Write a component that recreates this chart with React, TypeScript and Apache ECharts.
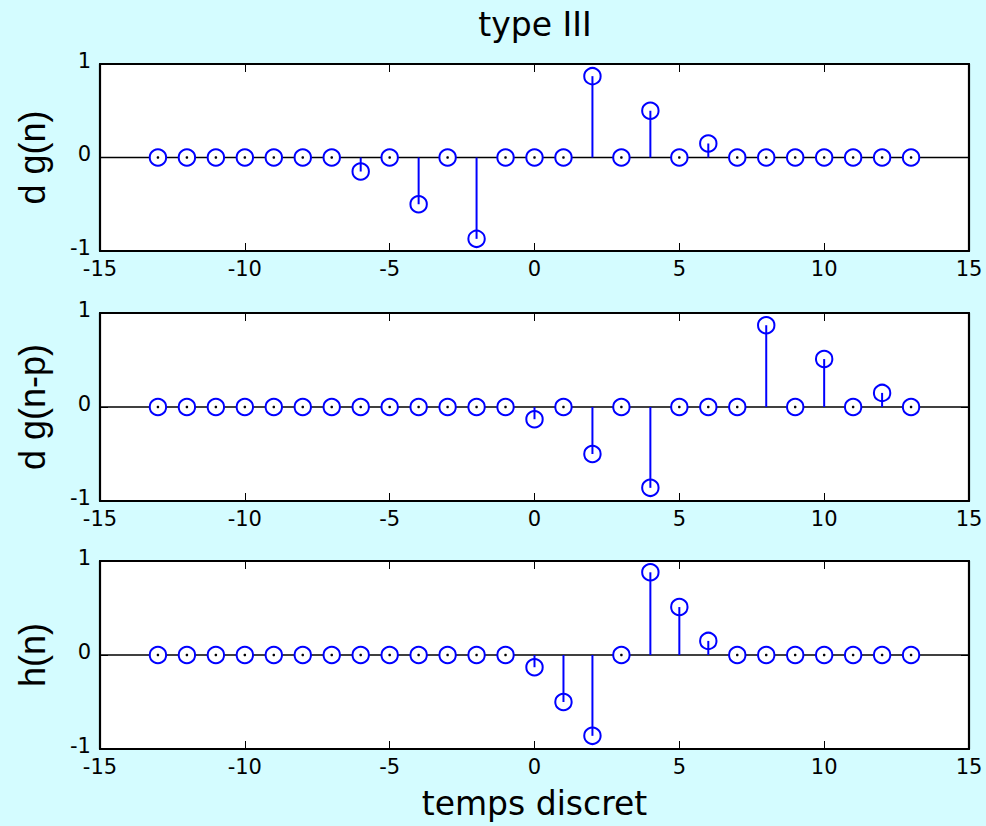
import React, { useEffect, useRef } from "react";
import * as echarts from "echarts";

const N = [-13, -12, -11, -10, -9, -8, -7, -6, -5, -4, -3, -2, -1, 0, 1, 2, 3, 4, 5, 6, 7, 8, 9, 10, 11, 12, 13];
const DG = [0, 0, 0, 0, 0, 0, 0, -0.15, 0, -0.5, 0, -0.87, 0, 0, 0, 0.87, 0, 0.5, 0, 0.15, 0, 0, 0, 0, 0, 0, 0];
const DGP = [0, 0, 0, 0, 0, 0, 0, 0, 0, 0, 0, 0, 0, -0.13, 0, -0.5, 0, -0.86, 0, 0, 0, 0.87, 0, 0.51, 0, 0.15, 0];
const H = [0, 0, 0, 0, 0, 0, 0, 0, 0, 0, 0, 0, 0, -0.13, -0.5, -0.86, 0, 0.88, 0.51, 0.15, 0, 0, 0, 0, 0, 0, 0];
const X_RANGE = [-15, 15];
const Y_RANGE = [-1, 1];
const Y_LABELS = ["d g(n)", "d g(n-p)", "h(n)"];
const TITLE = "type III";
const X_NAME = "temps discret";

const BG = "rgb(212,252,255)";
const BLUE = "#0000ff";

export default function App() {
  const ref = useRef<HTMLDivElement>(null);
  useEffect(() => {
    document.body.style.margin = "0";
    const chart = echarts.init(ref.current!, null, { renderer: "svg" });
    const series = [DG, DGP, H];
    const tops = [64, 313, 561];
    const heights = [187, 188, 188];
    const grid = tops.map((t, i) => ({ left: 100, width: 869, top: t, height: heights[i], backgroundColor: "#fff", show: true, borderWidth: 0 }));
    const axisLine = { onZero: false, lineStyle: { color: "#000", width: 2.2 } };
    const axisTick = { inside: true, length: 8, lineStyle: { color: "#000", width: 1 } };
    const xAxis: any[] = [];
    const yAxis: any[] = [];
    const ser: any[] = [];
    series.forEach((vals, i) => {
      xAxis.push({
        type: "value", gridIndex: i, min: X_RANGE[0], max: X_RANGE[1], interval: 5, position: "bottom",
        axisLine, axisTick, splitLine: { show: false },
        axisLabel: { color: "#000", fontFamily: "DejaVu Sans", fontSize: 21, margin: 7 },
        ...(i === 2 ? { name: X_NAME, nameLocation: "middle", nameGap: 38, nameTextStyle: { color: "#000", fontFamily: "DejaVu Sans", fontSize: 33 } } : {}),
      });
      xAxis.push({
        type: "value", gridIndex: i, min: X_RANGE[0], max: X_RANGE[1], interval: 5, position: "top",
        axisLine, axisTick, splitLine: { show: false }, axisLabel: { show: false },
      });
      yAxis.push({
        type: "value", gridIndex: i, min: Y_RANGE[0], max: Y_RANGE[1], interval: 1, position: "left",
        axisLine, axisTick, splitLine: { show: false },
        axisLabel: { color: "#000", fontFamily: "DejaVu Sans", fontSize: 21, margin: 9, verticalAlign: "bottom", lineHeight: 7 },
        name: Y_LABELS[i], nameLocation: "middle", nameGap: 50,
        nameTextStyle: { color: "#000", fontFamily: "Liberation Sans", fontSize: 36 },
      });
      yAxis.push({
        type: "value", gridIndex: i, min: Y_RANGE[0], max: Y_RANGE[1], interval: 1, position: "right",
        axisLine, axisTick, splitLine: { show: false }, axisLabel: { show: false },
      });
      ser.push({
        type: "line", xAxisIndex: i * 2, yAxisIndex: i * 2, z: 1, symbol: "none", silent: true,
        data: [[X_RANGE[0], 0], [X_RANGE[1], 0]],
        lineStyle: { color: "#000", width: 1.4 },
      });
      ser.push({
        type: "custom", xAxisIndex: i * 2, yAxisIndex: i * 2, z: 2,
        data: N.map((n, k) => [n, vals[k]]),
        renderItem: (params: any, api: any) => {
          const x = api.value(0);
          const y = api.value(1);
          const p = api.coord([x, y]);
          const b = api.coord([x, 0]);
          const children: any[] = [
            { type: "circle", shape: { cx: p[0], cy: p[1], r: 8.2 }, style: { fill: "#fff", stroke: BLUE, lineWidth: 2 } },
          ];
          if (y !== 0) {
            children.push({ type: "line", shape: { x1: b[0], y1: b[1], x2: p[0], y2: p[1] }, style: { stroke: BLUE, lineWidth: 2 } });
          } else {
            children.push({ type: "circle", shape: { cx: p[0], cy: p[1], r: 1.3 }, style: { fill: "#000" } });
          }
          return { type: "group", children };
        },
      });
    });
    chart.setOption({
      animation: false,
      backgroundColor: BG,
      title: { text: TITLE, left: 530, textAlign: "center", top: 3, textStyle: { color: "#000", fontFamily: "DejaVu Sans", fontSize: 33, fontWeight: "normal" } },
      grid, xAxis, yAxis, series: ser,
    });
    return () => chart.dispose();
  }, []);
  return <div ref={ref} style={{ width: 986, height: 826 }} />;
}
